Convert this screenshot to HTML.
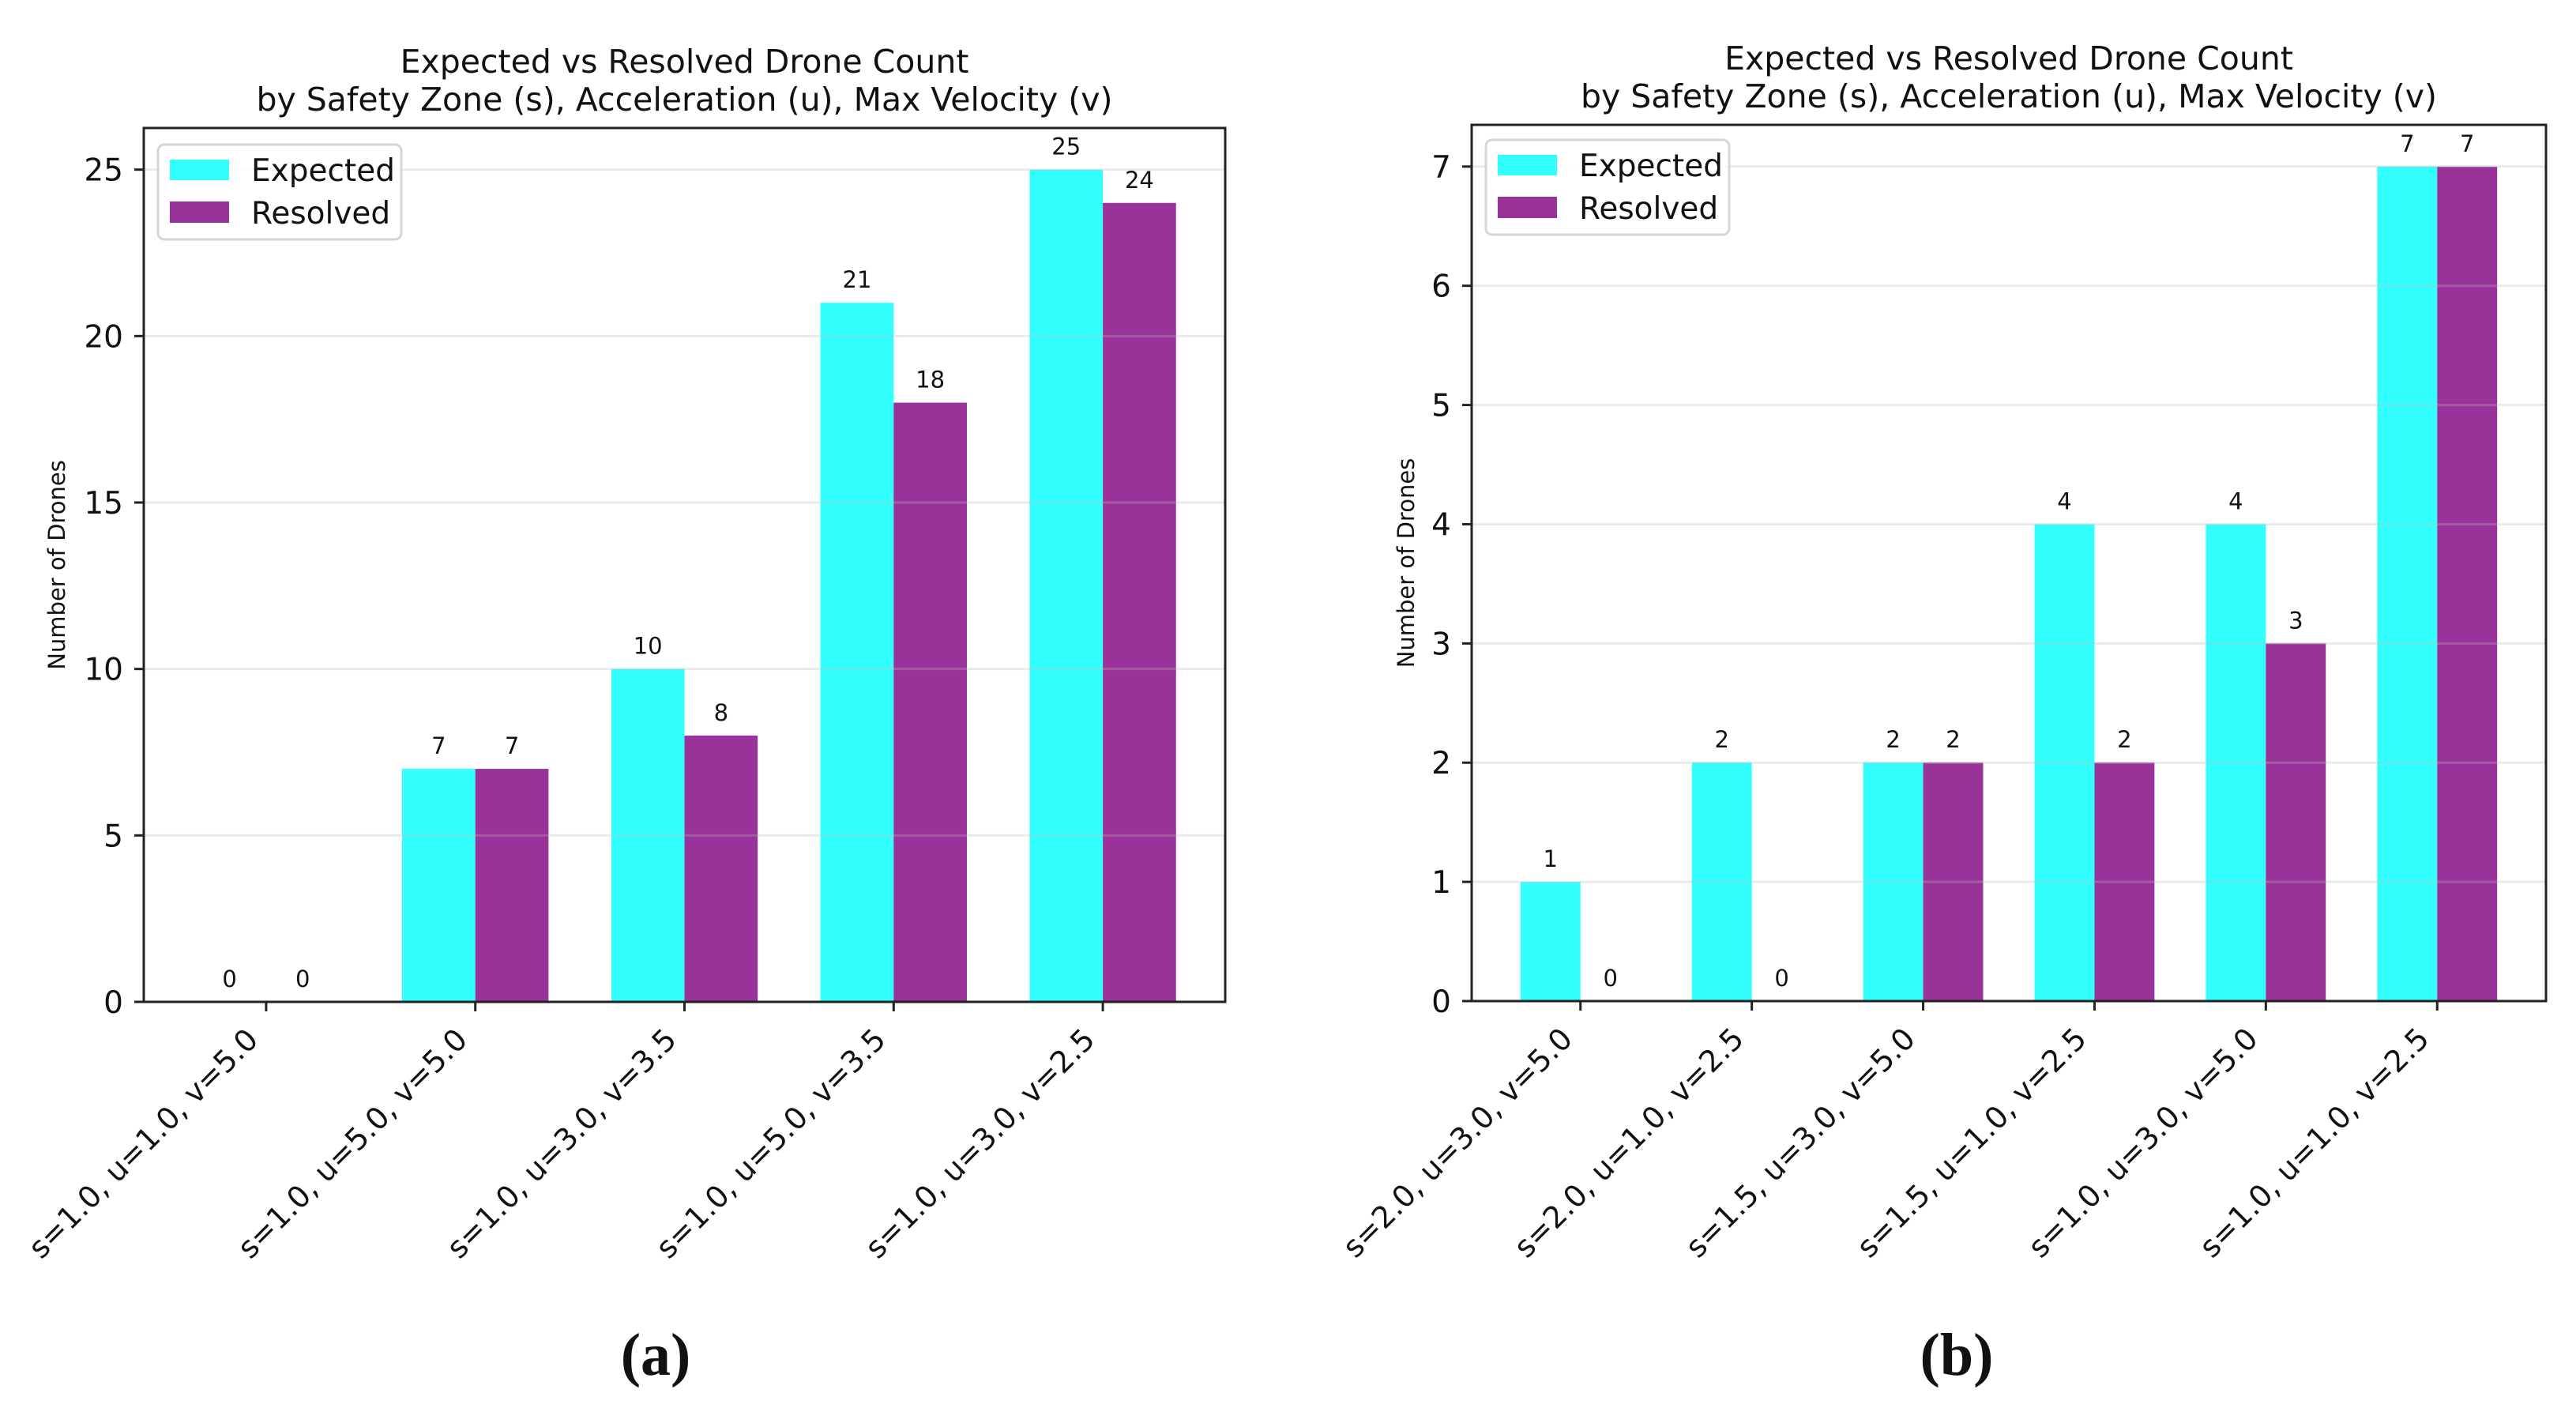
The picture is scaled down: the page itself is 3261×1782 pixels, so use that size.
<!DOCTYPE html>
<html><head><meta charset="utf-8">
<style>
html,body{margin:0;padding:0;background:#fff;}
svg{display:block;}
text{font-family:"DejaVu Sans","Liberation Sans",sans-serif;fill:#111;}
</style></head>
<body>
<svg id="fig" width="3261" height="1782" viewBox="0 0 3261 1782" xmlns="http://www.w3.org/2000/svg">
<rect width="3261" height="1782" fill="#fff"/>
<g id="chartA"></g>
<g id="chartB"></g>
<text x="830" y="1740" text-anchor="middle" style="font-family:'Liberation Serif',serif;font-weight:bold;font-size:76px">(a)</text>
<text x="2477" y="1740" text-anchor="middle" style="font-family:'Liberation Serif',serif;font-weight:bold;font-size:76px">(b)</text>
</svg>
<script>
const catsA = ["s=1.0, u=1.0, v=5.0","s=1.0, u=5.0, v=5.0","s=1.0, u=3.0, v=3.5","s=1.0, u=5.0, v=3.5","s=1.0, u=3.0, v=2.5"];
const expectedA = [0, 7, 10, 21, 25];
const resolvedA = [0, 7, 8, 18, 24];
const ticksA = [0, 5, 10, 15, 20, 25];

const catsB = ["s=2.0, u=3.0, v=5.0","s=2.0, u=1.0, v=2.5","s=1.5, u=3.0, v=5.0","s=1.5, u=1.0, v=2.5","s=1.0, u=3.0, v=5.0","s=1.0, u=1.0, v=2.5"];
const expectedB = [1, 2, 2, 4, 4, 7];
const resolvedB = [0, 0, 2, 2, 3, 7];
const ticksB = [0, 1, 2, 3, 4, 5, 6, 7];

const NS = "http://www.w3.org/2000/svg";
function mk(parent, tag, attrs){
  const e = document.createElementNS(NS, tag);
  for (const k in attrs) e.setAttribute(k, attrs[k]);
  parent.appendChild(e);
  return e;
}

function drawChart(g, cfg, cats, expv, resv, ticks){
  const L=cfg.left, R=cfg.right, T=cfg.top, B=cfg.bottom;
  const yMax = Math.max(...expv, ...resv) * 1.05;
  const yS = v => B - (B - T) * v / yMax;
  const n = cats.length;
  const xMin = -0.35 - 0.05 * (n - 1 + 0.7), xMax = n - 1 + 0.35 + 0.05 * (n - 1 + 0.7);
  const xS = v => L + (R - L) * (v - xMin) / (xMax - xMin);
  const unit = (R - L) / (xMax - xMin);
  const bw = 0.35 * unit;
  const cx = (L + R) / 2;

  const t1 = mk(g, "text", {x: cx, y: T - 70, "text-anchor": "middle", "font-size": 41});
  t1.textContent = "Expected vs Resolved Drone Count";
  
  
  const t2 = mk(g, "text", {x: cx, y: T - 22, "text-anchor": "middle", "font-size": 41});
  t2.textContent = "by Safety Zone (s), Acceleration (u), Max Velocity (v)";
  
  

  cats.forEach((c, i) => {
    const xc = xS(i);
    const e = mk(g, "rect", {x: xc - bw, y: yS(expv[i]), width: bw, height: B - yS(expv[i]), fill: "#33ffff"});
    
    
    const r = mk(g, "rect", {x: xc, y: yS(resv[i]), width: bw, height: B - yS(resv[i]), fill: "#993399"});
    
    
  });

  ticks.forEach(v => {
    const gl = mk(g, "line", {x1: L, x2: R, y1: yS(v), y2: yS(v), stroke: "rgba(190,190,190,0.3)", "stroke-width": 3});
    
    
  });

  cats.forEach((c, i) => {
    const xc = xS(i);
    const a = mk(g, "text", {x: xc - bw / 2, y: yS(expv[i]) - 19, "text-anchor": "middle", "font-size": 29});
    a.textContent = String(expv[i]);
    
    
    const b = mk(g, "text", {x: xc + bw / 2, y: yS(resv[i]) - 19, "text-anchor": "middle", "font-size": 29});
    b.textContent = String(resv[i]);
    
    
  });

  const fr = mk(g, "rect", {x: L, y: T, width: R - L, height: B - T, fill: "none", stroke: "#222", "stroke-width": 3});
  
  

  ticks.forEach(v => {
    const tk = mk(g, "line", {x1: L - 12, x2: L, y1: yS(v), y2: yS(v), stroke: "#222", "stroke-width": 3});
    
    
    const tl = mk(g, "text", {x: L - 26, y: yS(v) + 14, "text-anchor": "end", "font-size": 39});
    tl.textContent = String(v);
    
    
  });

  cats.forEach((c, i) => {
    const xc = xS(i);
    const tk = mk(g, "line", {x1: xc, x2: xc, y1: B, y2: B + 12, stroke: "#222", "stroke-width": 3});
    
    
    const px = xc - 8, py = B + 50;
    const tl = mk(g, "text", {x: px, y: py, "text-anchor": "end", "font-size": 38, transform: `rotate(-45 ${px} ${py})`});
    tl.textContent = c;
    
    
  });

  const yl = mk(g, "text", {x: cfg.ylx, y: (T + B) / 2, "text-anchor": "middle", "font-size": 29, transform: `rotate(-90 ${cfg.ylx} ${(T + B) / 2})`});
  yl.textContent = "Number of Drones";
  
  

  const lx = L + 18, ly = cfg.legTop;
  const lb = mk(g, "rect", {x: lx, y: ly, width: 308, height: 120, rx: 8, fill: "rgba(255,255,255,0.85)", stroke: "#d6d6d6", "stroke-width": 3});
  
  
  const p1 = mk(g, "rect", {x: lx + 15, y: ly + 19, width: 75, height: 26, fill: "#33ffff"});
  
  
  const p2 = mk(g, "rect", {x: lx + 15, y: ly + 72, width: 75, height: 27, fill: "#993399"});
  
  
  const e1 = mk(g, "text", {x: lx + 118, y: ly + 46, "font-size": 39});
  e1.textContent = "Expected";
  
  
  const e2 = mk(g, "text", {x: lx + 118, y: ly + 100, "font-size": 39});
  e2.textContent = "Resolved";
  
  
}

drawChart(document.getElementById("chartA"), {left:182, right:1551, top:162, bottom:1268, ylx:82, legTop:183}, catsA, expectedA, resolvedA, ticksA);
drawChart(document.getElementById("chartB"), {left:1863, right:3223, top:158, bottom:1267, ylx:1790, legTop:177}, catsB, expectedB, resolvedB, ticksB);
</script>
</body></html>
